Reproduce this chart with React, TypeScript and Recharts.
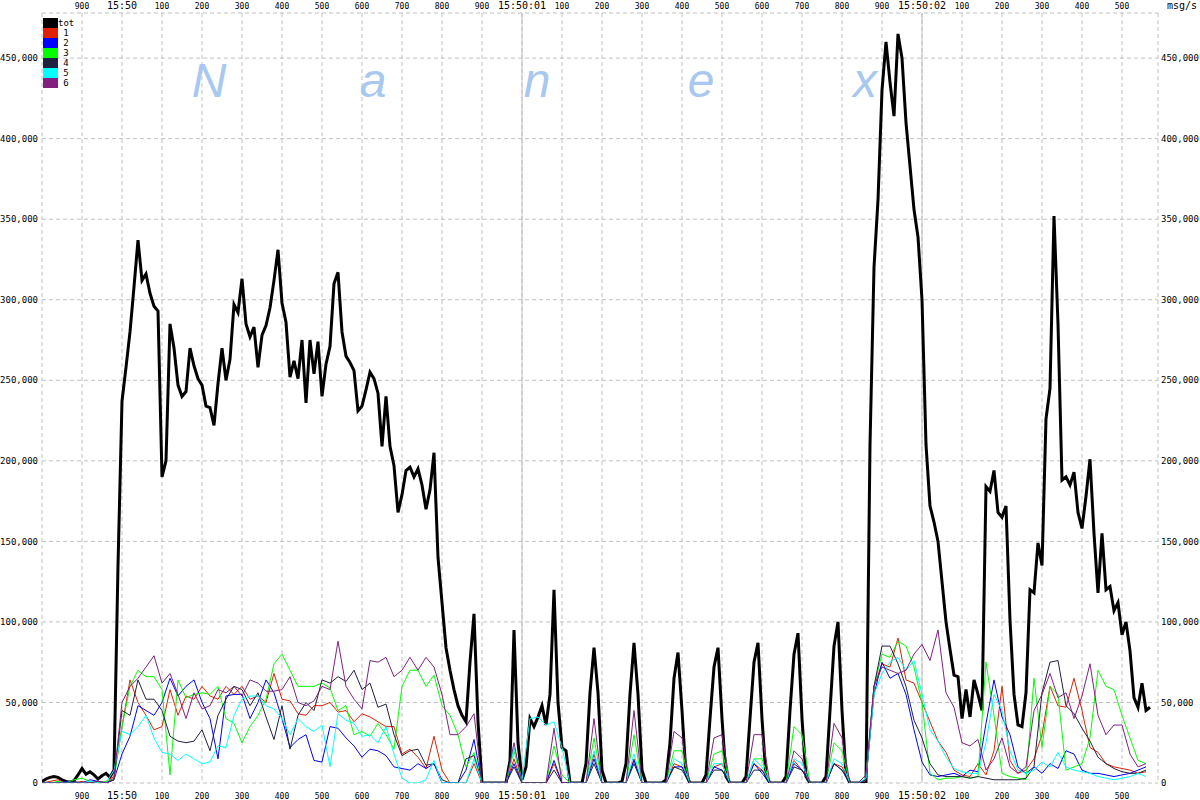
import React from 'react';
import { LineChart, Line, XAxis, YAxis, CartesianGrid, ReferenceLine } from 'recharts';

// time axis in ms relative to 15:50:00.000, values in thousands of msg/s
const T0 = -200;
const TOT_STEP = 10;
const SUB_STEP = 20;

const xTicks = [-100, 0, 100, 200, 300, 400, 500, 600, 700, 800, 900, 1000, 1100, 1200, 1300, 1400, 1500, 1600, 1700, 1800, 1900, 2000, 2100, 2200, 2300, 2400, 2500];
const yTicks = [0, 50, 100, 150, 200, 250, 300, 350, 400, 450];

const seriesNames = ['tot', '1', '2', '3', '4', '5', '6'];
const seriesColors = ['#000000', '#e02000', '#0000ff', '#00ff00', '#202040', '#00ffff', '#802080'];
const watermark = ['N', 'a', 'n', 'e', 'x'];

// 10ms samples
const tot = [
  1, 2.5, 3.5, 4, 3.5, 2, 1, 0.5, 1.5, 5,
  9, 5.5, 7, 5, 2.5, 4.5, 6, 3.5, 8, 135,
  237, 258, 280, 308, 337, 312, 316, 304, 296, 293,
  190, 200, 285, 270, 247, 240, 243, 270, 259, 251,
  247, 234, 233, 222, 248, 270, 250, 263, 297, 292,
  313, 285, 277, 283, 258, 278, 284, 295, 312, 331,
  298, 286, 252, 262, 251, 275, 236, 275, 254, 274,
  240, 260, 271, 310, 317, 280, 265, 261, 256, 231,
  234, 244, 255, 251, 242, 209, 240, 209, 197, 168,
  179, 194, 196, 190, 195, 185, 170, 182, 205, 140,
  112, 84, 70, 58, 48, 42, 38, 75, 105, 38,
  0, 0, 0, 0, 0, 0, 0, 14, 95, 25,
  2, 10, 40, 35, 41, 48, 36, 55, 120, 50,
  22, 20, 0, 0, 0, 0, 12, 56, 84, 56,
  8, 0, 0, 0, 0, 1, 12, 55, 87, 55,
  8, 0, 0, 0, 0, 0, 2, 25, 65, 81,
  45, 5, 0, 0, 0, 0, 5, 40, 72, 84,
  40, 4, 0, 0, 0, 0, 4, 40, 75, 87,
  40, 4, 0, 0, 0, 0, 4, 45, 80, 93,
  40, 4, 0, 0, 0, 0, 4, 45, 85, 100,
  45, 5, 0, 0, 0, 0, 0, 210, 320, 362,
  430, 460, 435, 414, 465, 450, 410, 383, 356, 339,
  300, 210, 172, 162, 150, 125, 100, 83, 67, 66,
  40, 58, 41, 64, 55, 45, 184, 181, 194, 168,
  165, 172, 101, 55, 36, 35, 56, 120, 118, 149,
  135, 226, 245, 352, 285, 188, 190, 185, 193, 168,
  158, 178, 201, 155, 118, 155, 120, 122, 107, 112,
  92, 100, 82, 53, 47, 62, 45, 47,
];

// 20ms samples
const s1 = [
  0, 1, 2, 0, 0, 1, 0, 0, 1, 4,
  35, 64, 50, 42, 33, 35, 58, 42, 54, 52,
  60, 54, 52, 60, 55, 60, 52, 54, 50, 68,
  52, 51, 43, 42, 48, 48, 50, 44, 45, 38,
  43, 41, 38, 35, 35, 18, 21, 16, 9, 29,
  8, 0, 0, 0, 12, 0, 0, 0, 0, 15,
  0, 0, 0, 0, 12, 0, 0, 0, 0, 18,
  0, 0, 0, 0, 15, 0, 0, 0, 0, 12,
  10, 0, 0, 0, 10, 12, 0, 0, 0, 12,
  8, 0, 0, 0, 14, 8, 0, 0, 0, 12,
  10, 0, 0, 2, 60, 74, 72, 90, 64, 62,
  50, 38, 26, 19, 8, 5, 4, 12, 5, 20,
  60, 14, 6, 8, 15, 30, 60, 48, 47, 65,
  45, 22, 19, 12, 10, 9, 8, 6, 7,
];

const s2 = [
  0, 0, 0, 1, 0, 0, 2, 1, 0, 2,
  18, 29, 48, 45, 42, 50, 65, 54, 60, 64,
  50, 40, 15, 54, 55, 55, 40, 50, 64, 56,
  40, 22, 27, 30, 14, 13, 35, 34, 28, 23,
  16, 21, 20, 17, 10, 9, 8, 12, 9, 12,
  0, 0, 0, 8, 27, 0, 0, 0, 0, 12,
  0, 0, 0, 0, 14, 0, 0, 0, 0, 15,
  0, 0, 0, 0, 14, 0, 0, 0, 0, 10,
  10, 0, 0, 0, 10, 8, 0, 0, 0, 12,
  6, 0, 0, 0, 12, 8, 0, 0, 0, 12,
  8, 0, 0, 2, 55, 75, 65, 68, 55, 33,
  13, 5, 4, 5, 6, 4, 8, 7, 37, 64,
  41, 30, 10, 6, 10, 6, 12, 9, 20, 18,
  8, 6, 6, 5, 4, 5, 6, 8, 10,
];

const s3 = [
  0, 0, 1, 0, 2, 3, 1, 0, 1, 2,
  35, 60, 70, 66, 66, 58, 5, 64, 53, 55,
  56, 55, 60, 40, 37, 25, 35, 42, 52, 74,
  80, 70, 60, 60, 60, 62, 59, 45, 48, 30,
  32, 29, 37, 30, 21, 60, 70, 70, 60, 67,
  48, 42, 30, 10, 19, 0, 0, 0, 0, 20,
  0, 0, 0, 0, 23, 5, 0, 0, 0, 28,
  0, 0, 0, 0, 30, 0, 0, 0, 0, 20,
  20, 0, 0, 0, 18, 20, 0, 0, 0, 15,
  15, 0, 0, 0, 35, 30, 0, 0, 0, 25,
  20, 0, 0, 5, 60, 80, 78, 88, 85, 72,
  50, 6, 2, 3, 3, 4, 3, 4, 75, 42,
  6, 4, 3, 2, 65, 22, 60, 55, 8, 10,
  12, 28, 70, 60, 58, 42, 28, 14, 12,
];

const s4 = [
  0, 0, 0, 0, 1, 0, 0, 1, 0, 2,
  45, 42, 64, 52, 52, 45, 29, 26, 25, 26,
  33, 20, 42, 52, 60, 58, 48, 56, 41, 27,
  48, 21, 42, 50, 45, 64, 62, 66, 63, 70,
  58, 62, 47, 49, 30, 17, 20, 21, 11, 12,
  2, 0, 0, 15, 17, 0, 0, 0, 0, 10,
  0, 0, 0, 0, 8, 0, 0, 0, 0, 12,
  0, 0, 0, 0, 12, 0, 0, 0, 0, 10,
  8, 0, 0, 0, 8, 8, 0, 0, 0, 8,
  8, 0, 0, 0, 10, 8, 0, 0, 0, 12,
  8, 0, 0, 2, 60, 85, 85, 74, 60, 39,
  28, 12, 5, 4, 4, 4, 3, 4, 3, 2,
  2, 2, 2, 3, 10, 56, 75, 76, 48, 43,
  34, 26, 16, 12, 9, 7, 6, 6, 8,
];

const s5 = [
  0, 0, 0, 0, 0, 0, 1, 0, 0, 8,
  32, 30, 35, 42, 28, 19, 18, 14, 18, 15,
  12, 13, 23, 22, 42, 52, 54, 54, 48, 46,
  40, 30, 40, 35, 32, 36, 10, 43, 39, 37,
  29, 30, 25, 35, 18, 3, 0, 0, 2, 14,
  0, 0, 0, 0, 15, 0, 0, 0, 0, 22,
  2, 40, 41, 36, 38, 22, 0, 0, 0, 20,
  0, 0, 0, 0, 18, 0, 0, 0, 0, 15,
  12, 0, 0, 0, 12, 12, 0, 0, 0, 15,
  10, 0, 0, 0, 15, 12, 0, 0, 0, 15,
  12, 0, 0, 3, 55, 68, 75, 78, 70, 76,
  55, 33, 26, 16, 9, 7, 6, 6, 25, 55,
  45, 20, 8, 6, 8, 13, 10, 19, 10, 8,
  7, 6, 4, 3, 2, 3, 4, 6, 4,
];

const s6 = [
  0, 0, 0, 0, 0, 0, 0, 1, 0, 3,
  50, 60, 65, 72, 79, 62, 68, 55, 40, 56,
  46, 48, 58, 56, 60, 54, 64, 62, 57, 57,
  58, 66, 50, 48, 51, 60, 58, 88, 60, 52,
  46, 76, 75, 78, 66, 70, 78, 70, 78, 72,
  55, 30, 30, 35, 43, 0, 0, 0, 0, 25,
  0, 0, 0, 0, 34, 0, 0, 0, 0, 40,
  0, 0, 0, 0, 45, 0, 0, 0, 0, 32,
  28, 0, 0, 0, 28, 30, 0, 0, 0, 30,
  30, 0, 0, 0, 20, 15, 0, 0, 0, 37,
  28, 0, 0, 5, 60, 72, 70, 68, 70, 80,
  86, 76, 95, 56, 47, 25, 23, 27, 8, 15,
  28, 10, 6, 10, 45, 55, 68, 53, 56, 40,
  54, 74, 42, 30, 36, 36, 18, 10, 12,
];

const toPoints = (vals: number[], step: number) => vals.map((v, i) => ({ t: T0 + i * step, v }));

const subSeries = [s1, s2, s3, s4, s5, s6];

const timeLabel = (t: number) => {
  if (t < 0) return String(1000 + t);
  if (t === 0) return '15:50';
  if (t % 1000 === 0) return `15:50:0${t / 1000}`;
  return String(t % 1000);
};

const mono = '"DejaVu Sans Mono", monospace';

const TimeTick = (props: any) => {
  const { x, payload, top } = props;
  const t = payload.value;
  const big = t % 1000 === 0;
  return (
    <text x={x} y={top ? 9 : 799} textAnchor="middle" fontFamily={mono} fontSize={big ? 10 : 8} fill="#000">
      {timeLabel(t)}
    </text>
  );
};

const yLabel = (v: number) => (v === 0 ? '0' : `${v},000`);

export default function App() {
  return (
    <div style={{ position: 'absolute', left: 0, top: 0, width: 1200, height: 800, background: '#fff' }}>
      <LineChart width={1200} height={800} margin={{ top: 0, right: 0, bottom: 0, left: 0 }}>
        <CartesianGrid stroke="#c0c0c0" strokeDasharray="4 3" />
        <XAxis
          dataKey="t"
          type="number"
          domain={[-200, 2590]}
          ticks={xTicks}
          allowDataOverflow
          height={17}
          axisLine={false}
          tickLine={false}
          tick={(p: any) => <TimeTick {...p} />}
          interval={0}
        />
        <XAxis
          xAxisId="top"
          orientation="top"
          dataKey="t"
          type="number"
          domain={[-200, 2590]}
          ticks={xTicks}
          allowDataOverflow
          height={13}
          axisLine={false}
          tickLine={false}
          tick={(p: any) => <TimeTick {...p} top />}
          interval={0}
        />
        <YAxis
          type="number"
          domain={[0, 478]}
          ticks={yTicks}
          allowDataOverflow
          width={42}
          axisLine={false}
          tickLine={false}
          tickSize={0}
          tickMargin={4}
          tickFormatter={yLabel}
          tick={{ fontFamily: mono, fontSize: 9, fill: '#000' }}
          interval={0}
        />
        <YAxis
          yAxisId="right"
          orientation="right"
          type="number"
          domain={[0, 478]}
          ticks={yTicks}
          allowDataOverflow
          width={42}
          axisLine={false}
          tickLine={false}
          tickSize={0}
          tickMargin={3}
          tickFormatter={yLabel}
          tick={{ fontFamily: mono, fontSize: 9, fill: '#000' }}
          interval={0}
        />
        <ReferenceLine x={1000} stroke="#c0c0c0" />
        <ReferenceLine x={2000} stroke="#c0c0c0" />
        <g>
          {watermark.map((ch, i) => (
            <text
              key={ch + i}
              x={209 + i * 164}
              y={97}
              textAnchor="middle"
              fontFamily='"Liberation Sans", sans-serif'
              fontStyle="italic"
              fontSize={48}
              fill="#a8c8f0"
            >
              {ch}
            </text>
          ))}
        </g>
        <Line
          data={toPoints(tot, TOT_STEP)}
          dataKey="v"
          name="tot"
          type="linear"
          stroke={seriesColors[0]}
          strokeWidth={3}
          dot={false}
          isAnimationActive={false}
        />
        {subSeries.map((vals, i) => (
          <Line
            key={seriesNames[i + 1]}
            data={toPoints(vals, SUB_STEP)}
            dataKey="v"
            name={seriesNames[i + 1]}
            type="linear"
            stroke={seriesColors[i + 1]}
            strokeWidth={1}
            dot={false}
            isAnimationActive={false}
          />
        ))}
      </LineChart>

      {/* legend */}
      <div style={{ position: 'absolute', left: 43, top: 18 }}>
        {seriesNames.map((name, i) => (
          <div key={name} style={{ display: 'flex', alignItems: 'center', height: 10 }}>
            <div style={{ width: 15, height: 10, background: seriesColors[i] }} />
            <div style={{ width: 16, textAlign: 'center', fontFamily: mono, fontSize: 9, lineHeight: '10px', color: '#000' }}>
              {name}
            </div>
          </div>
        ))}
      </div>

      <div style={{ position: 'absolute', left: 1167, top: 0, fontFamily: mono, fontSize: 10, lineHeight: '12px', color: '#000' }}>
        msg/s
      </div>
    </div>
  );
}
